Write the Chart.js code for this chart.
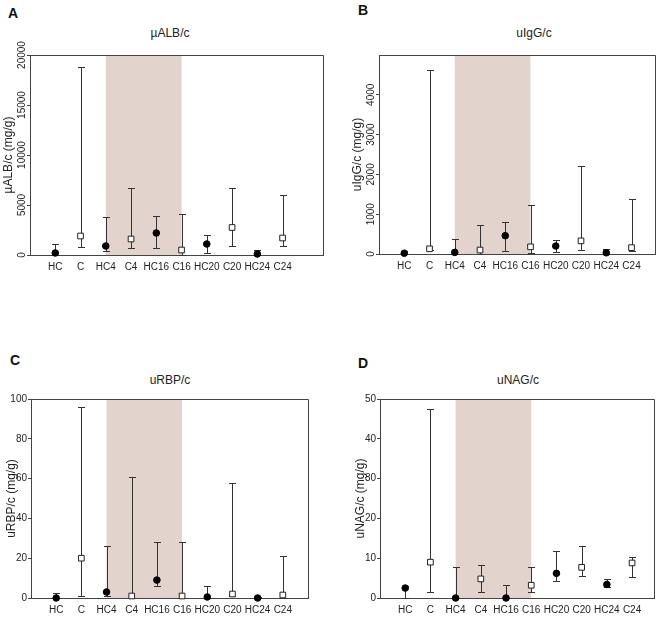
<!DOCTYPE html>
<html>
<head>
<meta charset="utf-8">
<script src="https://cdn.jsdelivr.net/npm/chart.js@4/dist/chart.umd.min.js"></script>
<style>
  body { margin: 0; background: #fff; }
  #page { position: relative; width: 661px; height: 617px; background: #fff; font-family: "Liberation Sans", Arial, sans-serif; color: #222; }
  canvas { position: absolute; }
  .letter { position: absolute; font-size: 14px; font-weight: bold; line-height: 14px; color: #111; }
  .title { position: absolute; width: 200px; text-align: center; font-size: 12px; line-height: 14px; color: #222; }
</style>
</head>
<body>
<div id="page">
  <div class="letter" style="left:8px;top:6px">A</div>
  <div class="letter" style="left:358px;top:3px">B</div>
  <div class="letter" style="left:10px;top:353px">C</div>
  <div class="letter" style="left:358px;top:356px">D</div>
  <div class="title" style="left:70px;top:26px">µALB/c</div>
  <div class="title" style="left:434px;top:26px">uIgG/c</div>
  <div class="title" style="left:70px;top:373px">uRBP/c</div>
  <div class="title" style="left:418px;top:373px">uNAG/c</div>
  <canvas id="chartA" width="330" height="300" style="left:0;top:0"></canvas>
  <canvas id="chartB" width="331" height="300" style="left:330px;top:0"></canvas>
  <canvas id="chartC" width="330" height="317" style="left:0;top:300px"></canvas>
  <canvas id="chartD" width="331" height="317" style="left:330px;top:300px"></canvas>
</div>
<script>
// Categories (HC = filled circles, C = open squares)
const categories = ['HC', 'C', 'HC4', 'C4', 'HC16', 'C16', 'HC20', 'C20', 'HC24', 'C24'];

// µALB/c (mg/g): median and range
const albMedian = [200, 1900, 900, 1600, 2200, 500, 1100, 2750, 100, 1700];
const albLow = [0, 850, 400, 750, 700, 0, 250, 950, 0, 900];
const albHigh = [1100, 18800, 3850, 6700, 3900, 4100, 2000, 6750, 500, 6050];

// uIgG/c (mg/g)
const iggMedian = [20, 130, 40, 100, 460, 180, 200, 330, 30, 160];
const iggLow = [0, 90, 0, 10, 80, 30, 60, 90, 10, 80];
const iggHigh = [80, 4620, 370, 730, 800, 1220, 360, 2220, 130, 1390];

// uRBP/c (mg/g)
const rbpMedian = [0, 20, 3, 1, 9, 1, 0.5, 2, 0, 1.5];
const rbpLow = [0, 1, 1, 0, 6, 0, 0, 1, 0, 0];
const rbpHigh = [2.5, 96, 26, 61, 28, 28, 6, 58, 0.3, 21];

// uNAG/c (mg/g)
const nagMedian = [2.5, 9, 0, 4.8, 0, 3.2, 6.2, 7.7, 3.4, 8.8];
const nagLow = [0, 1.5, 0, 1.5, 0, 1.5, 4.3, 5.6, 2.7, 5.4];
const nagHigh = [3, 47.5, 7.8, 8.4, 3.3, 7.7, 11.7, 13, 4.7, 10.4];

// Y axis ticks
const albTicks = [0, 5000, 10000, 15000, 20000];
const iggTicks = [0, 1000, 2000, 3000, 4000];
const rbpTicks = [0, 20, 40, 60, 80, 100];
const nagTicks = [0, 10, 20, 30, 40, 50];

// shaded period: from HC4 to C16
const shadeFrom = 2;
const shadeTo = 5;

const FONT = '"Liberation Sans", Arial, sans-serif';
const AXIS_COLOR = '#444';
const TEXT_COLOR = '#222';

// plugin: shaded band, box and error bars
const panelDecor = {
    id: 'panelDecor',
    beforeDraw(chart) {
        const {ctx, chartArea, scales} = chart;
        const x1 = scales.x.getPixelForValue(shadeFrom);
        const x2 = scales.x.getPixelForValue(shadeTo);
        ctx.save();
        ctx.fillStyle = 'rgb(226, 212, 204)';
        ctx.fillRect(x1, chartArea.top, x2 - x1, chartArea.bottom - chartArea.top);
        ctx.restore();
    },
    beforeDatasetsDraw(chart) {
        const {ctx, chartArea, scales} = chart;
        const cfg = chart.config.options.panel;
        ctx.save();
        // top and right side of the box
        ctx.strokeStyle = AXIS_COLOR;
        ctx.lineWidth = 1;
        ctx.beginPath();
        ctx.moveTo(chartArea.left, chartArea.top + 0.5);
        ctx.lineTo(chartArea.right + 0.5, chartArea.top + 0.5);
        ctx.lineTo(chartArea.right + 0.5, chartArea.bottom);
        ctx.stroke();
        // error bars
        ctx.strokeStyle = '#333';
        cfg.high.forEach((hi, i) => {
            const x = Math.round(scales.x.getPixelForValue(i)) + 0.5;
            const yH = Math.round(scales.y.getPixelForValue(hi)) + 0.5;
            const yL = Math.round(scales.y.getPixelForValue(cfg.low[i])) + 0.5;
            ctx.beginPath();
            ctx.moveTo(x, yL);
            ctx.lineTo(x, yH);
            ctx.moveTo(x - 3.5, yH);
            ctx.lineTo(x + 3.5, yH);
            ctx.moveTo(x - 3.5, yL);
            ctx.lineTo(x + 3.5, yL);
            ctx.stroke();
        });
        ctx.restore();
    },
    afterDraw(chart) {
        // vertical tick labels (panels A and B)
        const cfg = chart.config.options.panel;
        if (!cfg.rotated) return;
        const {ctx, scales, chartArea} = chart;
        ctx.save();
        ctx.fillStyle = TEXT_COLOR;
        ctx.font = '10px ' + FONT;
        ctx.textAlign = 'center';
        ctx.textBaseline = 'middle';
        cfg.ticks.forEach(t => {
            const y = scales.y.getPixelForValue(t);
            ctx.save();
            ctx.translate(chartArea.left - 7.5, y);
            ctx.rotate(-Math.PI / 2);
            ctx.fillText(String(t), 0, 0);
            ctx.restore();
        });
        ctx.restore();
    }
};

function makePanel(id, p) {
    const hcPoints = [];
    const cPoints = [];
    p.median.forEach((v, i) => {
        if (i % 2 === 0) hcPoints.push({x: i, y: v});
        else cPoints.push({x: i, y: v});
    });

    return new Chart(document.getElementById(id), {
        type: 'scatter',
        data: {
            datasets: [
                { label: 'HC', data: hcPoints, pointStyle: 'circle', pointRadius: 3.3, backgroundColor: '#000', borderColor: '#000', borderWidth: 1, clip: false },
                { label: 'C', data: cPoints, pointStyle: 'rect', pointRadius: 4, backgroundColor: '#fff', borderColor: '#222', borderWidth: 1, clip: false }
            ]
        },
        options: {
            responsive: false,
            animation: false,
            devicePixelRatio: 1,
            panel: p,
            layout: { padding: p.padding },
            plugins: { legend: { display: false }, tooltip: { enabled: false } },
            scales: {
                x: {
                    type: 'linear',
                    min: -1,
                    max: p.xMax,
                    afterBuildTicks: axis => { axis.ticks = categories.map((c, i) => ({ value: i })); },
                    afterFit: axis => { axis.height = p.xHeight; },
                    grid: { display: true, drawOnChartArea: false, drawTicks: false },
                    border: { display: true, color: AXIS_COLOR, width: 1 },
                    ticks: {
                        autoSkip: false, maxRotation: 0, padding: 6,
                        color: TEXT_COLOR, font: { family: FONT, size: 10 },
                        callback: v => categories[v] !== undefined ? categories[v] : ''
                    }
                },
                y: {
                    min: 0,
                    max: p.yMax,
                    afterBuildTicks: axis => { axis.ticks = p.ticks.map(v => ({ value: v })); },
                    afterFit: axis => { axis.width = p.yWidth; },
                    grid: { display: true, drawOnChartArea: false, drawTicks: true, tickLength: 3, color: AXIS_COLOR },
                    border: { display: true, color: AXIS_COLOR, width: 1 },
                    ticks: {
                        display: !p.rotated, padding: 1,
                        color: TEXT_COLOR, font: { family: FONT, size: 10 }
                    },
                    title: {
                        display: true, text: p.yTitle, color: TEXT_COLOR,
                        font: { family: FONT, size: 12 },
                        padding: { top: p.titlePad, bottom: 0 }
                    }
                }
            }
        },
        plugins: [panelDecor]
    });
}

makePanel('chartA', {
    median: albMedian, low: albLow, high: albHigh, ticks: albTicks, yMax: 20000, xMax: 10.6,
    yTitle: 'µALB/c (mg/g)', rotated: true, yWidth: 30, xHeight: 30, titlePad: 1.5,
    padding: { left: 0, top: 55, right: 7, bottom: 15 }
});
makePanel('chartB', {
    median: iggMedian, low: iggLow, high: iggHigh, ticks: iggTicks, yMax: 5000, xMax: 9.93,
    yTitle: 'uIgG/c (mg/g)', rotated: true, yWidth: 49, xHeight: 30, titlePad: 20,
    padding: { left: 0, top: 55, right: 6, bottom: 16 }
});
makePanel('chartC', {
    median: rbpMedian, low: rbpLow, high: rbpHigh, ticks: rbpTicks, yMax: 100, xMax: 10,
    yTitle: 'uRBP/c (mg/g)', rotated: false, yWidth: 31, xHeight: 19, titlePad: 4,
    padding: { left: 0, top: 99, right: 22, bottom: 0 }
});
makePanel('chartD', {
    median: nagMedian, low: nagLow, high: nagHigh, ticks: nagTicks, yMax: 50, xMax: 9.87,
    yTitle: 'uNAG/c (mg/g)', rotated: false, yWidth: 50, xHeight: 19, titlePad: 23,
    padding: { left: 0, top: 99, right: 7, bottom: 0 }
});
</script>
</body>
</html>
